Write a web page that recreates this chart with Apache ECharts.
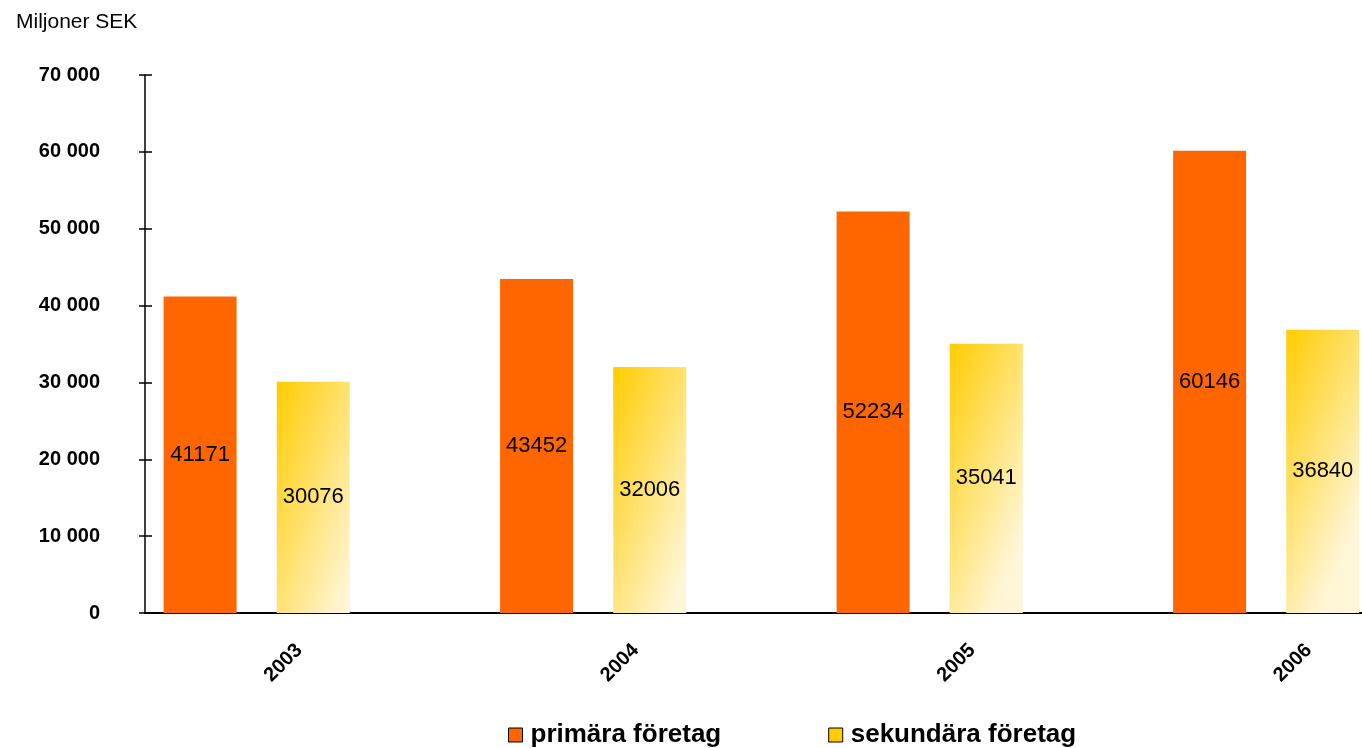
<!DOCTYPE html>
<html>
<head>
<meta charset="utf-8">
<script src="https://cdn.jsdelivr.net/npm/echarts@6/dist/echarts.min.js"></script>
<style>html,body{margin:0;padding:0;background:#fff}#c{width:1362px;height:748px}</style>
</head>
<body>
<div id="c"></div>
<script>
const categories = ['2003', '2004', '2005', '2006'];
const primara = [41171, 43452, 52234, 60146];
const sekundara = [30076, 32006, 35041, 36840];
const yTicks = [0, 10000, 20000, 30000, 40000, 50000, 60000, 70000];

const font = '"Liberation Sans", Arial, sans-serif';
const chart = echarts.init(document.getElementById('c'), null, {renderer: 'canvas'});
const fmt = v => String(v).replace(/\B(?=(\d{3})+(?!\d))/g, ' ');

chart.setOption({
  animation: false,
  textStyle: {fontFamily: font},
  graphic: [{
    type: 'text', left: 16, top: 12,
    style: {text: 'Miljoner SEK', font: '21px ' + font, fill: '#000'}
  }],
  legend: {
    data: [
      {name: 'primära företag', itemStyle: {color: '#FF6600', borderColor: '#000', borderWidth: 1}},
      {name: 'sekundära företag', itemStyle: {color: '#FFCC00', borderColor: '#000', borderWidth: 1}}
    ],
    left: 508, top: 722, padding: 0, itemWidth: 14, itemHeight: 14, itemGap: 107,
    icon: 'rect',
    textStyle: {fontSize: 26, fontWeight: 'bold', color: '#000', fontFamily: font, padding: [0, 0, 0, 3]}
  },
  grid: {left: 145, top: 75, height: 538, width: 1346, outerBoundsMode: 'none', containLabel: false},
  xAxis: {
    type: 'category', data: categories,
    axisLine: {lineStyle: {color: '#000', width: 2}},
    axisTick: {show: false},
    axisLabel: {rotate: 45, margin: 20, fontSize: 20, fontWeight: 'bold', color: '#000', fontFamily: font,
      padding: [0, 20, 0, 0]}
  },
  yAxis: [{
    type: 'value', min: 0, max: 70000, interval: 10000,
    splitLine: {show: false},
    axisLine: {show: true, lineStyle: {color: '#000', width: 1.5}},
    axisTick: {show: true, length: 6, lineStyle: {color: '#000', width: 1.5}},
    axisLabel: {margin: 45, fontSize: 20, fontWeight: 'bold', color: '#000', fontFamily: font,
      formatter: v => yTicks.indexOf(v) >= 0 ? fmt(v) : ''}
  }, {
    type: 'value', min: 0, max: 70000, interval: 10000, position: 'left',
    splitLine: {show: false},
    axisLine: {show: false},
    axisTick: {show: true, inside: true, length: 7, lineStyle: {color: '#000', width: 1.5}},
    axisLabel: {show: false}
  }],
  series: [{
    name: 'primära företag', type: 'bar', data: primara,
    barWidth: 73, barGap: '55%',
    itemStyle: {color: '#FF6600'},
    label: {show: true, position: 'inside', fontSize: 22, color: '#000', fontFamily: font}
  }, {
    name: 'sekundära företag', type: 'bar', data: sekundara,
    barWidth: 73, barGap: '55%',
    itemStyle: {color: new echarts.graphic.LinearGradient(0, 0, 1.75, 0.18, [
      {offset: 0, color: '#FFCC00'},
      {offset: 1, color: '#FFF6D8'}
    ])},
    label: {show: true, position: 'inside', fontSize: 22, color: '#000', fontFamily: font}
  }, {
    name: 'spacer', type: 'bar', data: [], barWidth: 73, barGap: '55%'
  }]
});
</script>
</body>
</html>
